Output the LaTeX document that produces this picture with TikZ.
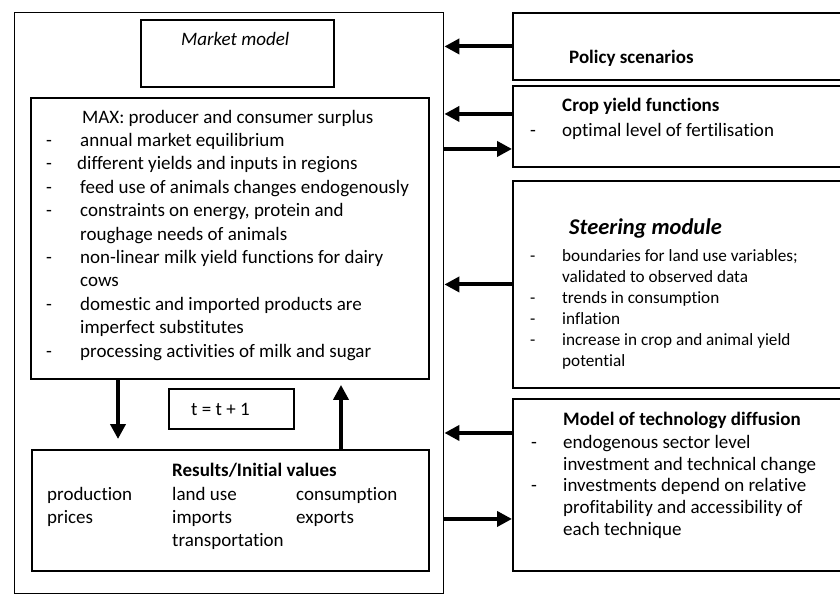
\documentclass[tikz,border=0pt]{standalone}
\usepackage{fontspec}
\setmainfont{Carlito}[Ligatures={NoCommon,NoRequired,NoContextual}]
\usetikzlibrary{arrows.meta}
\newcommand\fsN{\fontsize{19}{23}\selectfont}
\newcommand\fsS{\fontsize{17.2}{21}\selectfont}
\newcommand\fsT{\fontsize{22.5}{26}\selectfont}
\begin{document}
\begin{tikzpicture}[x=1pt,y=-1pt,
  box/.style={draw, line width=1.9pt, inner sep=0, anchor=north west},
  outerbox/.style={draw, line width=1.4pt, inner sep=0, anchor=north west},
  txt/.style={anchor=base west, inner sep=0, font=\fsN},
  stxt/.style={anchor=base west, inner sep=0, font=\fsS},
  arr/.style={line width=4pt, -{Triangle[length=15pt,width=15pt]}},
]
\useasboundingbox (0,0) rectangle (840,595);
\clip (0,0) rectangle (840,595);
\fill[white] (0,0) rectangle (840,595);

% boxes
\node[outerbox, minimum width=429pt, minimum height=581pt] (outer) at (14,12) {};
\node[box, minimum width=193pt, minimum height=67pt] (market) at (140,19) {};
\node[box, minimum width=398pt, minimum height=281pt] (max) at (30,97) {};
\node[box, minimum width=125pt, minimum height=40pt] (tbox) at (168,388) {};
\node[box, minimum width=397pt, minimum height=121pt] (results) at (31,449) {};
\node[box, minimum width=348pt, minimum height=67pt] (policy) at (512,12) {};
\node[box, minimum width=348pt, minimum height=81pt] (crop) at (512,85) {};
\node[box, minimum width=348pt, minimum height=207pt] (steer) at (512,180) {};
\node[box, minimum width=348pt, minimum height=172pt] (tech) at (512,398) {};

% market model texts
\node[txt, font=\fsN\itshape] (mm) at (181,45) {Market model};
\node[txt] (m0) at (82,123) {MAX: producer and consumer surplus};
\node[txt] (d1) at (46,146.4) {-};
\node[txt] (m1) at (80,146.4) {annual market equilibrium};
\node[txt] (d2) at (46,169.8) {-};
\node[txt] (m2) at (77,169.8) {different yields and inputs in regions};
\node[txt] (d3) at (46,193.2) {-};
\node[txt] (m3) at (80,193.2) {feed use of animals changes endogenously};
\node[txt] (d4) at (46,216.6) {-};
\node[txt] (m4) at (80,216.6) {constraints on energy, protein and};
\node[txt] (m5) at (80,240) {roughage needs of animals};
\node[txt] (d6) at (46,263.4) {-};
\node[txt] (m6) at (80,263.4) {non-linear milk yield functions for dairy};
\node[txt] (m7) at (80,286.8) {cows};
\node[txt] (d8) at (46,310.2) {-};
\node[txt] (m8) at (80,310.2) {domestic and imported products are};
\node[txt] (m9) at (80,333.6) {imperfect substitutes};
\node[txt] (d10) at (46,357) {-};
\node[txt] (m10) at (80,357) {processing activities of milk and sugar};

\node[txt] (tt) at (191,415) {t = t + 1};

\node[txt, font=\fsN\bfseries] (rh) at (172,476) {Results/Initial values};
\node[txt] (r1) at (47,500) {production};
\node[txt] (r2) at (172,500) {land use};
\node[txt] (r3) at (296,500) {consumption};
\node[txt] (r4) at (47,523) {prices};
\node[txt] (r5) at (172,523) {imports};
\node[txt] (r6) at (296,523) {exports};
\node[txt] (r7) at (172,546) {transportation};

% right texts
\node[txt, font=\fsN\bfseries] (ps) at (569,63) {Policy scenarios};
\node[txt, font=\fsN\bfseries] (cy) at (562,111.5) {Crop yield functions};
\node[txt] (cd1) at (530,136) {-};
\node[txt] (c1) at (562,136) {optimal level of fertilisation};

\node[txt, font=\fsT\bfseries\itshape] (sm) at (569,234) {Steering module};
\node[stxt] (sd1) at (530,261.7) {-};
\node[stxt] (s1) at (562,261.7) {boundaries for land use variables;};
\node[stxt] (s2) at (562,282) {validated to observed data};
\node[stxt] (sd3) at (530,303) {-};
\node[stxt] (s3) at (562,303) {trends in consumption};
\node[stxt] (sd4) at (530,324) {-};
\node[stxt] (s4) at (562,324) {inflation};
\node[stxt] (sd5) at (530,345.5) {-};
\node[stxt] (s5) at (562,345.5) {increase in crop and animal yield};
\node[stxt] (s6) at (562,366.5) {potential};

\node[txt, font=\fsN\bfseries] (tm) at (563,425) {Model of technology diffusion};
\node[txt] (td1) at (531,448) {-};
\node[txt] (t1) at (563,448) {endogenous sector level};
\node[txt] (t2) at (563,470) {investment and technical change};
\node[txt] (td3) at (531,491.5) {-};
\node[txt] (t3) at (563,491.5) {investments depend on relative};
\node[txt] (t4) at (563,513) {profitability and accessibility of};
\node[txt] (t5) at (563,535) {each technique};

% connectors
\draw[arr] (policy.west) -- (policy.west -| outer.east);
\coordinate (cA) at ([yshift=12.5pt]crop.west);
\coordinate (cB) at ([yshift=-22.5pt]crop.west);
\draw[arr] (cA) -- (cA -| outer.east);
\draw[arr] (cB -| outer.east) -- (cB);
\draw[arr] (steer.west) -- (steer.west -| outer.east);
\coordinate (tA) at ([yshift=52pt]tech.west);
\coordinate (tB) at ([yshift=-34pt]tech.west);
\draw[arr] (tA) -- (tA -| outer.east);
\draw[arr] (tB -| outer.east) -- (tB);
\coordinate (dn) at ([xshift=88pt]max.south west);
\draw[arr, shorten >=10pt] (dn) -- (dn |- results.north);
\coordinate (up) at ([xshift=310pt]results.north west);
\draw[arr, shorten >=5pt] (up) -- (up |- max.south);
\end{tikzpicture}
\end{document}
